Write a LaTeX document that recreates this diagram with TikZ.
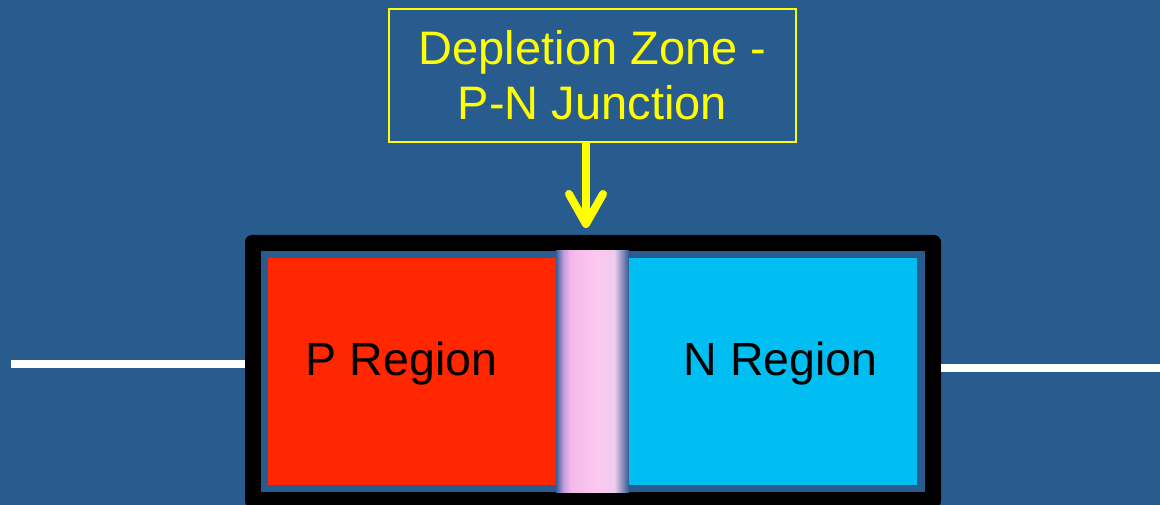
\documentclass[tikz,border=0pt]{standalone}
\usepackage{fontspec}
\setmainfont{Liberation Sans}
\usepackage{xcolor}
\usetikzlibrary{arrows.meta,positioning}
\definecolor{bgblue}{HTML}{285C8F}
\definecolor{pred}{HTML}{FF2600}
\definecolor{ncyan}{HTML}{00BEF2}
\definecolor{yel}{HTML}{FFFF00}
\definecolor{dedge}{HTML}{3A5E98}
\definecolor{dviol}{HTML}{C49BDB}
\definecolor{dpinka}{HTML}{F4B8EA}
\definecolor{dpinkb}{HTML}{FDC8EE}
\definecolor{dpinkc}{HTML}{EFCBEE}
\definecolor{dgrey}{HTML}{7F86B5}
\pgfdeclarehorizontalshading{depl}{100bp}{color(0bp)=(dedge); color(25bp)=(dedge);
  color(30bp)=(dviol); color(35bp)=(dpinka); color(52.5bp)=(dpinkb);
  color(65bp)=(dpinkc); color(71bp)=(dgrey); color(75bp)=(bgblue); color(100bp)=(bgblue)}
\tikzset{
  region/.style={inner sep=0pt,anchor=base,font=\fontsize{46.5}{54}\selectfont},
  lbl/.style={draw=yel,line width=2pt,text=yel,align=center,inner sep=0pt,
    minimum width=407pt,minimum height=133pt,font=\fontsize{47}{55}\selectfont},
  wire/.style={white,line width=8pt},
  pointer/.style={yel,line width=8pt,-{Straight Barb[round,length=30pt,width=34pt]}}
}
\begin{document}
\begin{tikzpicture}[x=1pt,y=-1pt]
\useasboundingbox (0,0) rectangle (1160,505);
\clip (0,0) rectangle (1160,505);
\fill[bgblue] (0,0) rectangle (1160,505);
% diode body
\node[fill=black,rounded corners=7pt,minimum width=696pt,minimum height=273pt,inner sep=0pt] (body) at (593,371.5) {};
\node[fill=bgblue,minimum width=664pt,minimum height=241pt,inner sep=0pt] (inner) at (593,371.5) {};
\shade[shading=depl] (556,251) rectangle (629,492);
\fill[pred] (268,258) rectangle (556,485);
\fill[ncyan] (629,258) rectangle (917,485);
\node[region] (ptext) at (401.5,375) {P Region};
\node[region] (ntext) at (780.5,375) {N Region};
% leads
\coordinate (lend) at (11,364);
\coordinate (rend) at (1160,368);
\draw[wire] (lend) -- (lend -| body.west);
\draw[wire] (rend -| body.east) -- (rend);
% label and pointer
\node[lbl] (zone) at (592.5,75.5) {Depletion Zone -\\P-N Junction};
\coordinate (tip) at (586,228);
\draw[pointer] (zone.south -| tip) -- (tip);
\end{tikzpicture}
\end{document}
